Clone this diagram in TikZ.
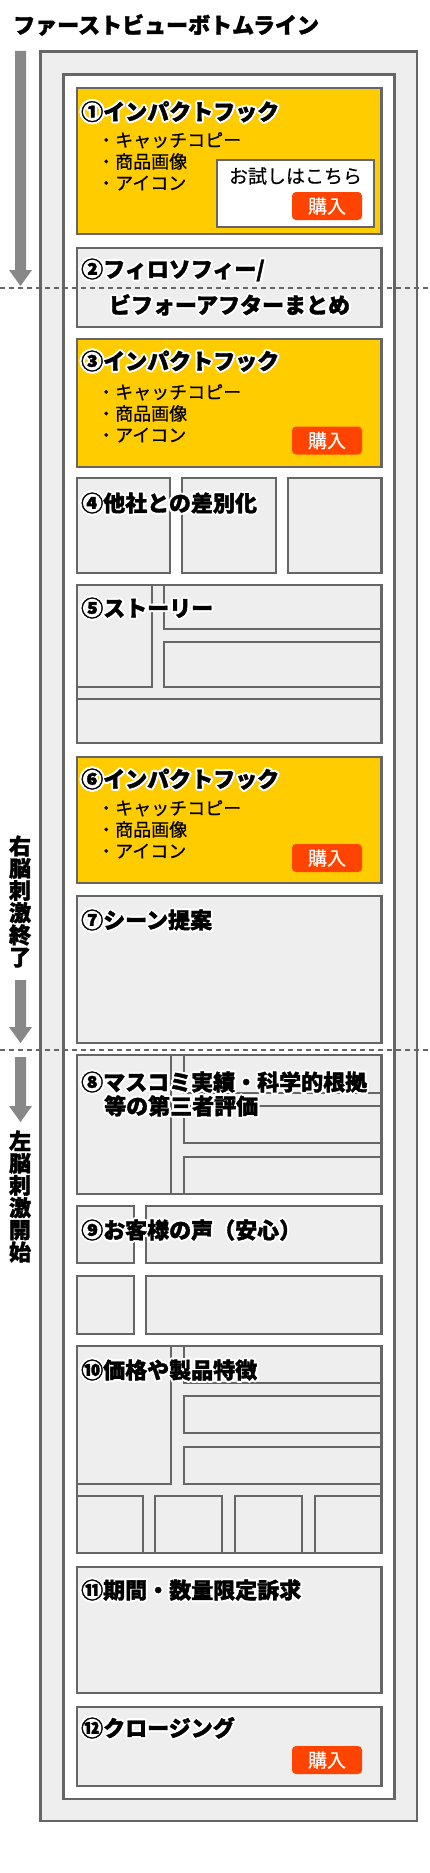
\documentclass[tikz,border=0pt]{standalone}
\usepackage{fontspec}
\setmainfont{Noto Sans CJK JP}[UprightFeatures={FakeBold=0.4}, BoldFeatures={FakeBold=1.6}]
\definecolor{lc}{HTML}{666666}
\definecolor{bgc}{HTML}{EEEEEE}
\definecolor{yel}{HTML}{FFCC00}
\definecolor{btn}{HTML}{FF4400}
\definecolor{arr}{HTML}{888888}
\newcommand\halo[1]{\leavevmode\rlap{\color{white}\foreach \hA in {0,22.5,...,337.5}{\pgfmathsetmacro\hX{2*cos(\hA)}\pgfmathsetmacro\hY{2*sin(\hA)}\rlap{\kern\hX pt\raisebox{\hY pt}{#1}}}}#1}
\tikzset{
  frame/.style={draw=lc, line width=2.6pt, fill=bgc},
  yframe/.style={frame, fill=yel},
  wframe/.style={frame, fill=white},
  ttl/.style={anchor=base west, inner sep=0pt, font=\bfseries\fontsize{22}{24}\selectfont},
  bul/.style={anchor=base west, inner sep=0pt, font=\fontsize{18}{20}\selectfont},
  buy/.style={fill=btn, rounded corners=4pt, text=white, minimum width=70pt, minimum height=28pt, inner sep=0pt, font=\fontsize{19}{20}\selectfont},
  vtext/.style={align=center, inner sep=0pt, font=\bfseries\fontsize{22}{22.2}\selectfont},
  dots/.style={draw=lc, line width=2pt, dash pattern=on 5pt off 4pt},
  garrow/.style={fill=arr}
}
\begin{document}
\begin{tikzpicture}[x=1pt,y=-1pt]
\useasboundingbox (0,0) rectangle (430,1873);
% title
\node[anchor=base west, inner sep=0pt, font=\bfseries\fontsize{22}{24}\selectfont] (top) at (13,33.4) {ファーストビューボトムライン};
% frames
\draw[frame] (40.7,51.5) rectangle (417,1821);
\draw[wframe] (63.7,74.7) rectangle (394.7,1799);
% box 1
\draw[yframe] (77,88) rectangle (381.5,234);
\draw[wframe] (217,160) rectangle (374,227);
% box 2
\draw[frame] (77,248) rectangle (381.5,327);
% box 3
\draw[yframe] (77,339) rectangle (381.5,467);
% box 4
\draw[frame] (77,478) rectangle (170,573);
\draw[frame] (182,478) rectangle (276,573);
\draw[frame] (288,478) rectangle (381.5,573);
% box 5
\draw[frame] (77,585) rectangle (381.5,743);
\draw[frame] (77,585) rectangle (152,687);
\draw[frame] (164,585) rectangle (381.5,629);
\draw[frame] (164,642) rectangle (381.5,687);
\draw[frame] (77,699) rectangle (381.5,743);
% box 6
\draw[yframe] (77,757) rectangle (381.5,883);
% box 7
\draw[frame] (77,896) rectangle (381.5,1043);
% box 8
\draw[frame] (77,1055) rectangle (381.5,1194);
\draw[frame] (77,1055) rectangle (171,1194);
\draw[frame] (184,1055) rectangle (381.5,1093);
\draw[frame] (184,1106) rectangle (381.5,1143);
\draw[frame] (184,1157) rectangle (381.5,1194);
% box 9
\draw[frame] (77,1206) rectangle (134,1263);
\draw[frame] (146,1206) rectangle (381.5,1263);
\draw[frame] (77,1276) rectangle (134,1334);
\draw[frame] (146,1276) rectangle (381.5,1334);
% box 10
\draw[frame] (77,1346) rectangle (381.5,1553);
\draw[frame] (77,1346) rectangle (171,1484);
\draw[frame] (184,1346) rectangle (381.5,1383);
\draw[frame] (184,1396) rectangle (381.5,1433);
\draw[frame] (184,1447) rectangle (381.5,1484);
\draw[frame] (77,1496) rectangle (143,1553);
\draw[frame] (155,1496) rectangle (222,1553);
\draw[frame] (235,1496) rectangle (302,1553);
\draw[frame] (315,1496) rectangle (381.5,1553);
% box 11
\draw[frame] (77,1567) rectangle (381.5,1693);
% box 12
\draw[frame] (77,1707) rectangle (381.5,1786);
% texts
\node[ttl] (t1) at (81,120) {\halo{①インパクトフック}};
\node[bul] (b1a) at (97,146.8) {・キャッチコピー};
\node[bul] (b1b) at (97,168.3) {・商品画像};
\node[bul] (b1c) at (97,189.8) {・アイコン};
\node[anchor=base, inner sep=0pt, font=\fontsize{19}{20}\selectfont] (try) at (295.5,183.2) {お試しはこちら};
\node[buy] (buy1) at (327,206) {購入};
\node[ttl] (t2) at (81,277.4) {\halo{②フィロソフィー/}};
\node[anchor=base, inner sep=0pt, font=\bfseries\fontsize{22}{24}\selectfont] (t2b) at (229.5,313.4) {\halo{ビフォーアフターまとめ}};
\node[ttl] (t3) at (81,369.4) {\halo{③インパクトフック}};
\node[bul] (b3a) at (97,398.8) {・キャッチコピー};
\node[bul] (b3b) at (97,420.3) {・商品画像};
\node[bul] (b3c) at (97,441.8) {・アイコン};
\node[buy] (buy3) at (327,440.5) {購入};
\node[ttl] (t4) at (81,511.4) {\halo{④他社との差別化}};
\node[ttl] (t5) at (81,616.4) {\halo{⑤ストーリー}};
\node[ttl] (t6) at (81,787.4) {\halo{⑥インパクトフック}};
\node[bul] (b6a) at (97,814.8) {・キャッチコピー};
\node[bul] (b6b) at (97,836.3) {・商品画像};
\node[bul] (b6c) at (97,857.8) {・アイコン};
\node[buy] (buy6) at (327,858) {購入};
\node[ttl] (t7) at (81,928.4) {\halo{⑦シーン提案}};
\node[ttl] (t8) at (81,1090.4) {\halo{⑧マスコミ実績・科学的根拠}};
\node[ttl] (t8b) at (104,1114.4) {\halo{等の第三者評価}};
\node[ttl] (t9) at (81,1238.4) {\halo{⑨お客様の声（安心）}};
\node[ttl] (t10) at (81,1378.4) {\halo{⑩価格や製品特徴}};
\node[ttl] (t11) at (81,1598.4) {\halo{⑪期間・数量限定訴求}};
\node[ttl] (t12) at (81,1736.4) {\halo{⑫クロージング}};
\node[buy] (buy12) at (327,1760) {購入};
% arrows
\fill[garrow] (15,51) -- (26,51) -- (26,270) -- (32,270) -- (20.5,286) -- (9,270) -- (15,270) -- cycle;
\fill[garrow] (15,980) -- (26,980) -- (26,1027) -- (32,1027) -- (20.5,1043) -- (9,1027) -- (15,1027) -- cycle;
\fill[garrow] (15,1057) -- (26,1057) -- (26,1106) -- (32,1106) -- (20.5,1122) -- (9,1106) -- (15,1106) -- cycle;
\node[vtext] (rEnd) at (20,901.5) {右\\脳\\刺\\激\\終\\了};
\node[vtext] (lStart) at (20,1196.5) {左\\脳\\刺\\激\\開\\始};
% dotted lines
\coordinate (d1l) at (0,288);
\coordinate (d1r) at (430,288);
\coordinate (d2l) at (0,1050);
\coordinate (d2r) at (430,1050);
\draw[dots] (d1l) -- (d1r);
\draw[dots] (d2l) -- (d2r);
\end{tikzpicture}
\end{document}
